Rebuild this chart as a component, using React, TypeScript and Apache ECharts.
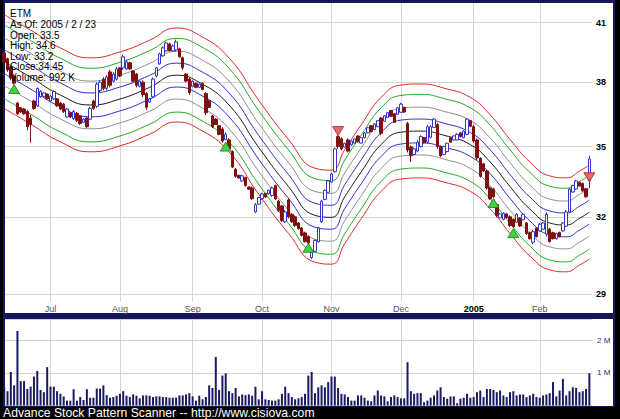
import React, { useEffect, useRef } from "react";
import * as echarts from "echarts";

// ---------- data ----------
const openP = [
  39.45, 39.15, 38.75, 38.3, 37.0, 36.78, 36.72, 36.6, 36.3, 37.1,
  36.87, 37.3, 37.32, 37.43, 37.1, 37.2, 37.2, 37.0, 36.95, 36.35,
  36.55, 36.28, 36.52, 36.4, 36.1, 36.3, 36.25, 37.1, 36.85, 37.6,
  38.15, 37.7, 38.5, 38.05, 38.15, 38.7, 38.7, 38.65, 38.95, 38.55,
  38.4, 37.8, 38.0, 37.45, 37.05, 37.3, 38.3, 38.9, 39.3, 39.55,
  39.9, 39.55, 39.6, 39.65, 39.2, 38.4, 38.15, 37.8, 37.95, 37.75,
  37.95, 37.45, 37.1, 36.4, 36.25, 35.95, 35.8, 35.32, 35.3, 34.78,
  34.0, 33.74, 33.5, 33.65, 33.24, 33.2, 32.2, 32.52, 32.75, 32.97,
  32.95, 32.88, 33.3, 32.65, 32.45, 31.8, 32.7, 32.1, 32.0, 31.75,
  31.55, 31.35, 31.2, 30.38, 30.62, 31.0, 31.8, 32.72, 33.02, 33.45,
  33.9, 35.45, 35.35, 34.98, 35.3, 35.08, 35.16, 35.48, 35.16, 35.4,
  35.62, 35.95, 35.77, 35.9, 36.3, 36.15, 36.33, 36.65, 36.5, 36.47,
  36.57, 36.8, 36.05, 34.98, 34.65, 34.8, 35.0, 35.4, 35.2, 35.42,
  35.87, 36.0, 35.0, 34.65, 34.78, 35.4, 35.3, 35.3, 35.62, 35.4,
  35.55, 36.18, 35.9, 35.3, 34.48, 34.24, 33.93, 33.2, 33.15, 32.5,
  31.96, 31.9, 32.12, 32.0, 31.9, 31.78, 31.95, 31.88, 31.75, 31.36,
  30.98, 31.55, 31.43, 31.5, 31.3, 31.5, 31.36, 31.12, 31.37, 31.43,
  31.62, 32.2, 33.03, 33.16, 33.44, 33.4, 33.17, 33.5,
];
const highP = [
  39.51, 39.21, 38.8, 38.39, 37.05, 36.82, 36.77, 36.68, 36.44, 37.15,
  37.75, 37.61, 37.52, 37.47, 37.38, 37.61, 37.24, 37.05, 37.01, 36.77,
  36.58, 36.68, 36.58, 36.44, 36.3, 36.35, 36.82, 37.15, 37.99, 38.09,
  38.24, 38.34, 38.6, 38.5, 38.75, 38.75, 39.36, 39.11, 39.0, 38.6,
  38.44, 38.09, 38.09, 37.52, 37.24, 38.24, 38.75, 39.46, 39.77, 40.02,
  39.97, 39.87, 40.12, 39.71, 39.26, 38.44, 38.24, 38.09, 37.99, 37.94,
  37.99, 37.52, 37.15, 36.44, 36.3, 35.98, 35.88, 35.65, 35.37, 34.83,
  34.06, 33.77, 33.77, 33.68, 33.26, 33.26, 32.57, 32.83, 33.0, 33.0,
  33.13, 33.26, 33.34, 32.7, 32.49, 32.28, 32.79, 32.15, 32.06, 31.79,
  31.59, 31.4, 31.25, 30.62, 31.09, 31.59, 32.7, 33.13, 33.55, 33.85,
  34.96, 35.51, 35.42, 35.18, 35.37, 35.28, 35.37, 35.51, 35.42, 35.65,
  35.88, 35.98, 36.07, 36.21, 36.35, 36.44, 36.58, 36.68, 36.54, 36.82,
  37.01, 36.82, 36.12, 35.05, 34.96, 35.28, 35.51, 35.42, 35.98, 35.98,
  36.3, 36.07, 35.05, 35.05, 35.18, 35.42, 35.51, 35.6, 35.65, 35.74,
  36.3, 36.21, 35.98, 35.37, 34.53, 34.28, 33.98, 33.26, 33.21, 32.57,
  32.15, 32.19, 32.15, 32.06, 31.94, 32.15, 31.98, 32.15, 31.79, 31.4,
  31.48, 31.59, 31.75, 31.79, 32.19, 31.55, 31.4, 31.36, 31.4, 31.79,
  32.28, 33.21, 33.34, 33.55, 33.47, 33.43, 33.21, 34.6,
];
const lowP = [
  38.95, 38.5, 38.09, 37.89, 36.44, 36.54, 36.44, 35.74, 35.18, 36.68,
  36.82, 37.24, 37.29, 37.15, 37.05, 37.15, 36.82, 36.68, 36.54, 36.3,
  36.3, 36.21, 36.12, 35.98, 36.07, 35.84, 36.21, 36.68, 36.77, 37.52,
  37.61, 37.61, 37.75, 37.99, 38.09, 38.24, 38.6, 38.6, 38.6, 37.99,
  37.75, 37.75, 37.29, 36.68, 37.01, 37.24, 38.24, 38.85, 39.26, 39.51,
  39.51, 39.51, 39.51, 39.21, 38.6, 37.99, 37.38, 37.75, 37.71, 37.71,
  37.61, 36.44, 36.77, 35.84, 35.98, 35.51, 35.18, 35.28, 34.83, 34.06,
  33.64, 33.6, 33.47, 33.26, 33.13, 32.7, 32.15, 32.49, 32.7, 32.79,
  32.92, 32.83, 32.7, 32.19, 31.79, 31.75, 31.94, 31.75, 31.59, 31.48,
  31.21, 30.97, 30.9, 30.32, 30.59, 30.97, 31.75, 32.7, 33.0, 33.43,
  33.85, 34.91, 34.83, 34.96, 34.74, 35.05, 35.14, 35.18, 35.14, 35.37,
  35.6, 35.65, 35.74, 35.88, 35.51, 36.12, 36.3, 36.35, 36.07, 36.44,
  36.54, 36.54, 34.74, 34.32, 34.62, 34.74, 34.96, 35.14, 35.14, 35.37,
  35.84, 34.91, 34.53, 34.62, 34.74, 35.18, 35.28, 35.28, 35.42, 35.37,
  35.51, 35.88, 35.18, 34.4, 33.64, 33.89, 33.13, 32.7, 32.79, 31.98,
  31.94, 31.86, 31.94, 31.59, 31.55, 31.75, 31.59, 31.86, 31.28, 31.09,
  30.9, 31.17, 31.4, 31.48, 31.21, 30.97, 31.09, 31.09, 31.17, 31.4,
  31.59, 32.15, 33.0, 33.13, 33.26, 33.04, 32.79, 33.2,
];
const closeP = [
  39.0, 38.6, 38.2, 37.95, 36.5, 36.58, 36.5, 35.9, 36.0, 36.75,
  37.7, 37.55, 37.48, 37.2, 37.33, 37.55, 36.87, 36.72, 36.6, 36.72,
  36.35, 36.6, 36.2, 36.05, 36.25, 35.9, 36.75, 36.75, 37.9, 38.0,
  37.7, 38.25, 37.85, 38.4, 38.65, 38.3, 39.25, 39.0, 38.65, 38.05,
  37.85, 38.05, 37.4, 36.8, 37.2, 38.15, 38.7, 39.4, 39.7, 39.95,
  39.55, 39.8, 40.0, 39.25, 38.7, 38.05, 37.5, 38.05, 37.75, 37.9,
  37.65, 36.55, 36.8, 35.9, 36.0, 35.55, 35.25, 35.55, 34.9, 34.1,
  33.7, 33.63, 33.72, 33.3, 33.15, 32.75, 32.5, 32.8, 32.95, 32.82,
  33.1, 33.2, 32.75, 32.25, 31.85, 32.2, 32.0, 31.8, 31.65, 31.52,
  31.25, 31.0, 30.95, 30.58, 31.05, 31.55, 32.65, 33.1, 33.5, 33.8,
  34.9, 35.0, 34.9, 35.15, 34.8, 35.25, 35.35, 35.22, 35.4, 35.62,
  35.85, 35.68, 36.03, 36.18, 35.6, 36.4, 36.55, 36.38, 36.1, 36.78,
  36.95, 36.58, 34.85, 34.6, 34.9, 35.2, 35.45, 35.18, 35.9, 35.9,
  36.25, 35.0, 34.6, 35.0, 35.15, 35.2, 35.48, 35.55, 35.45, 35.7,
  36.25, 35.92, 35.25, 34.5, 33.7, 33.93, 33.2, 32.75, 32.83, 32.05,
  32.12, 32.15, 31.96, 31.65, 31.6, 32.1, 31.63, 32.1, 31.33, 31.12,
  31.4, 31.2, 31.7, 31.75, 32.1, 31.0, 31.12, 31.33, 31.2, 31.75,
  32.2, 33.15, 33.3, 33.5, 33.28, 33.08, 32.83, 34.45,
];
// volume in millions of shares
const volumeM = [
  0.58, 0.44, 1.03, 0.62, 2.29, 0.75, 0.75, 0.51, 0.58, 0.89,
  1.06, 0.48, 0.41, 1.18, 0.58, 0.58, 0.44, 0.36, 0.28, 0.15,
  0.15, 0.5, 0.15, 0.26, 0.17, 0.5, 0.24, 0.24, 0.52, 0.52,
  0.62, 0.32, 0.24, 0.26, 0.3, 0.36, 0.44, 0.3, 0.26, 0.34,
  0.3, 0.22, 0.31, 0.31, 0.3, 0.26, 0.28, 0.28, 0.26, 0.26,
  0.24, 0.24, 0.24, 0.31, 0.31, 0.34, 0.38, 0.28, 0.15, 0.3,
  0.19, 0.26, 0.62, 0.54, 1.49, 0.48, 0.92, 0.99, 0.44, 0.38,
  0.54, 0.28, 0.34, 0.32, 0.34, 0.3, 0.58, 0.19, 0.44, 0.19,
  0.17, 0.15, 0.15, 0.19, 0.36, 0.58, 0.38, 0.26, 0.19, 0.22,
  0.26, 0.36, 0.92, 1.03, 0.38, 0.56, 0.62, 0.56, 0.72, 0.89,
  0.89, 0.54, 0.36, 0.34, 0.26, 0.15, 0.15, 0.31, 0.31, 0.24,
  0.15, 0.13, 0.31, 0.46, 0.31, 0.28, 0.13, 0.26, 0.31, 0.26,
  0.22, 0.22, 1.33, 0.44, 0.36, 0.38, 0.38, 0.1, 0.15, 0.24,
  0.31, 0.46, 0.56, 0.26, 0.21, 0.28, 0.28, 0.07, 0.21, 0.24,
  0.36, 0.24, 0.26, 0.41, 0.46, 0.26, 0.51, 0.51, 0.48, 0.41,
  0.46, 0.31, 0.26, 0.41, 0.44, 0.31, 0.34, 0.34, 0.26, 0.31,
  0.36, 0.26, 0.24, 0.31, 0.34, 0.38, 0.72, 0.28, 0.46, 0.82,
  0.31, 0.44, 0.56, 0.54, 0.41, 0.44, 0.51, 0.99,
];
// centre line of the envelope, read at a few trading-day positions
const centerIdx = [0, 8, 17, 26, 35, 44, 52, 59, 68, 77, 86, 94, 99, 103, 108, 114, 120, 126, 133, 141, 147, 153, 159, 165, 170, 174, 177];
const centerPrice = [39.0, 38.24, 37.38, 36.91, 37.19, 37.75, 38.34, 37.99, 36.91, 34.96, 33.26, 32.06, 31.98, 32.83, 33.89, 35.09, 35.65, 35.7, 35.51, 35.09, 34.32, 33.26, 32.32, 31.75, 31.67, 31.94, 32.19];
const bandPct = [6.2, 4.8, 3.1, 1.55, 0, -1.5, -3.0, -4.6, -5.8];
const bandColors = ["#dd2b2b", "#22aa22", "#8e8e8e", "#3030c4", "#1c1c1c", "#3030c4", "#8e8e8e", "#22aa22", "#dd2b2b"];

const priceTicks = [29, 32, 35, 38, 41];
const monthLabels = ["Jul", "Aug", "Sep", "Oct", "Nov", "Dec", "2005", "Feb"];
const monthIdx = [14, 35, 57, 78, 99, 120, 142, 162];
const volumeTicks = [1, 2];

const buyIdx = [3, 67, 92, 148, 154];
const buyPrice = [37.67, 35.0, 30.76, 32.57, 31.34];
const sellIdx = [101, 177];
const sellPrice = [35.7, 33.66];

const legendLines = ["ETM", "As Of: 2005 / 2 / 23", "Open: 33.5", "High: 34.6", "Low: 33.2", "Close:34.45", "Volume: 992 K"];
const footerText = "Advance Stock Pattern Scanner -- http://www.cisiova.com";

const FONT = '"Liberation Sans", Arial, sans-serif';
const X_MIN = 0.24;
const X_MAX = 177.8;

export default function App() {
  const ref = useRef<HTMLDivElement>(null);

  useEffect(() => {
    document.body.style.margin = "0";
    if (!ref.current) return;
    const chart = echarts.init(ref.current, undefined, { renderer: "svg" });

    const bandSeries = bandPct.map((pct, b) => ({
      type: "line",
      xAxisIndex: 0,
      yAxisIndex: 0,
      data: centerIdx.map((x, k) => [x, +(centerPrice[k] * (1 + pct / 100)).toFixed(3)]),
      smooth: 0.5,
      showSymbol: false,
      silent: true,
      z: 1,
      lineStyle: { color: bandColors[b], width: 1 },
    }));

    const option: any = {
      animation: false,
      backgroundColor: "transparent",
      grid: [
        { left: 5, top: 3, width: 587, height: 299, outerBoundsMode: "none" },
        { left: 5, top: 319, width: 587, height: 86.5, outerBoundsMode: "none" },
      ],
      xAxis: [
        { type: "value", gridIndex: 0, min: X_MIN, max: X_MAX, show: false },
        { type: "value", gridIndex: 1, min: X_MIN, max: X_MAX, show: false },
      ],
      yAxis: [
        { type: "log", gridIndex: 0, min: 28.705, max: 42.04, show: false },
        {
          type: "value",
          gridIndex: 1,
          min: 0,
          max: 2.66,
          interval: 1,
          position: "right",
          axisLine: { show: false },
          axisTick: { show: false },
          splitLine: { show: true, lineStyle: { color: "#d2d2d2", width: 1 } },
          axisLabel: {
            showMinLabel: false,
            showMaxLabel: false,
            formatter: (v: number) => (volumeTicks.indexOf(v) >= 0 ? v + " M" : ""),
            color: "#2a2a88",
            fontSize: 8,
            fontFamily: FONT,
            margin: 5,
          },
        },
      ],
      graphic: [
        ...legendLines.map((t, k) => ({
          type: "text",
          x: 10,
          y: 13.8 + k * 10.6,
          z: 100,
          silent: true,
          style: { text: t, fill: "#000", font: `10px ${FONT}`, verticalAlign: "middle" },
        })),
        {
          type: "text",
          x: 3,
          y: 412.5,
          scaleX: 0.94,
          z: 100,
          silent: true,
          style: { text: footerText, fill: "#ffffff", font: `13px ${FONT}`, verticalAlign: "middle" },
        },
      ],
      series: [
        {
          type: "line",
          xAxisIndex: 0,
          yAxisIndex: 0,
          data: centerIdx.map((x, k) => [x, centerPrice[k]]),
          showSymbol: false,
          silent: true,
          z: 0,
          lineStyle: { opacity: 0 },
          markLine: {
            silent: true,
            z: 0,
            symbol: ["none", "none"],
            animation: false,
            lineStyle: { color: "#d4d4d4", width: 1, type: "solid" },
            data: [
              ...priceTicks.map((v) => ({
                yAxis: v,
                label: {
                  show: true,
                  position: "end",
                  formatter: String(v),
                  color: "#000",
                  fontSize: 9,
                  fontWeight: "bold",
                  fontFamily: FONT,
                  distance: 4,
                },
              })),
              ...monthIdx.map((m, k) => ({
                xAxis: m,
                label: {
                  show: true,
                  position: "start",
                  formatter: monthLabels[k],
                  color: monthLabels[k] === "2005" ? "#000" : "#555",
                  fontSize: 9,
                  fontWeight: monthLabels[k] === "2005" ? "bold" : "normal",
                  fontFamily: FONT,
                  distance: 2,
                },
              })),
            ],
          },
        },
        ...bandSeries,
        {
          type: "candlestick",
          xAxisIndex: 0,
          yAxisIndex: 0,
          z: 3,
          barWidth: 3,
          encode: { x: 0, y: [1, 2, 3, 4] },
          data: closeP.map((c, i) => [i, openP[i], c, lowP[i], highP[i]]),
          itemStyle: {
            color: "#ffffff",
            color0: "#7e1010",
            borderColor: "#3535c8",
            borderColor0: "#7e1010",
            borderWidth: 1,
          },
        },
        {
          type: "scatter",
          xAxisIndex: 0,
          yAxisIndex: 0,
          z: 4,
          symbol: "triangle",
          symbolSize: [11, 9],
          data: buyIdx.map((x, k) => [x, buyPrice[k]]),
          itemStyle: { color: "#3fd43f", borderColor: "#1f7a1f", borderWidth: 0.8, opacity: 1 },
        },
        {
          type: "scatter",
          xAxisIndex: 0,
          yAxisIndex: 0,
          z: 4,
          symbol: "triangle",
          symbolRotate: 180,
          symbolSize: [11, 9],
          data: sellIdx.map((x, k) => [x, sellPrice[k]]),
          itemStyle: { color: "#e86868", borderColor: "#a02020", borderWidth: 0.8, opacity: 1 },
        },
        {
          type: "bar",
          xAxisIndex: 1,
          yAxisIndex: 1,
          z: 2,
          barWidth: 2,
          data: volumeM.map((v, i) => [i, v]),
          itemStyle: { color: "#1a1a62" },
          markLine: {
            silent: true,
            z: 0,
            symbol: ["none", "none"],
            animation: false,
            label: { show: false },
            lineStyle: { color: "#d4d4d4", width: 1, type: "solid" },
            data: monthIdx.map((m) => ({ xAxis: m })),
          },
        },
      ],
    };

    chart.setOption(option);
    return () => chart.dispose();
  }, []);

  return (
    <div style={{ position: "relative", width: 620, height: 419, background: "#000", overflow: "hidden" }}>
      <div style={{ position: "absolute", left: 3, top: 0, width: 612, height: 317, background: "#16165a" }} />
      <div style={{ position: "absolute", left: 5, top: 3, width: 608, height: 310, background: "#fff" }} />
      <div style={{ position: "absolute", left: 3, top: 317, width: 612, height: 90, background: "#16165a" }} />
      <div style={{ position: "absolute", left: 5, top: 319, width: 608, height: 87, background: "#fff" }} />
      <div ref={ref} style={{ position: "absolute", left: 0, top: 0, width: 620, height: 419 }} />
    </div>
  );
}
